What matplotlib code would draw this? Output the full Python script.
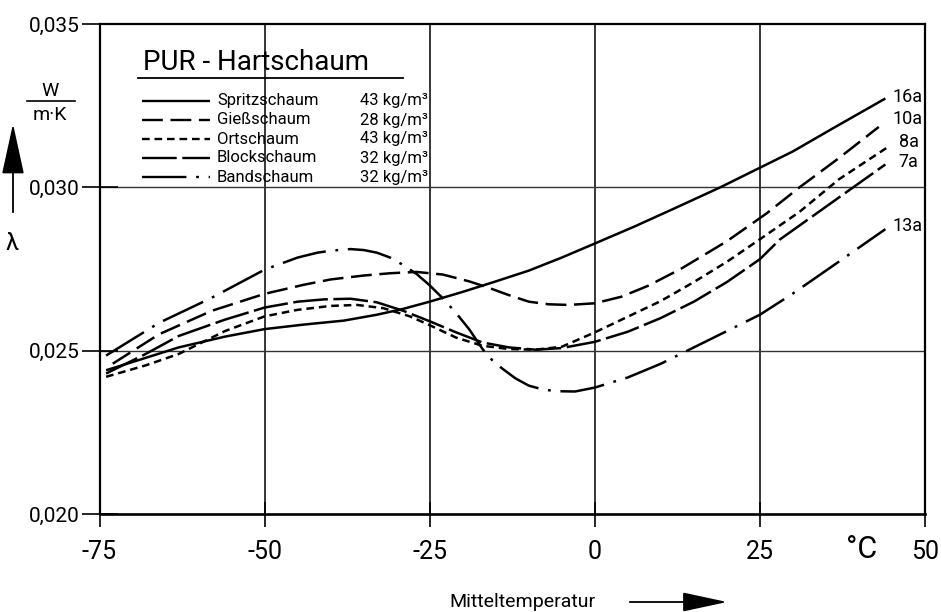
import matplotlib
matplotlib.use("Agg")
import matplotlib.pyplot as plt
from matplotlib.lines import Line2D
from matplotlib.patches import FancyArrowPatch

plt.rcParams['font.family'] = ['Roboto', 'DejaVu Sans']
plt.rcParams['lines.scale_dashes'] = False

# ---------------- data ----------------
spritz_T = [-74, -68, -63, -56, -50, -44, -38, -33, -29, -25, -20, -15, -10, -5, 0, 6, 12, 19, 25, 30, 36, 44]
spritz_L = [0.02440, 0.02478, 0.02510, 0.02543, 0.02566, 0.02580, 0.02592, 0.02610, 0.02628, 0.02650, 0.02680,
            0.02712, 0.02745, 0.02785, 0.02828, 0.02880, 0.02935, 0.03000, 0.03060, 0.03110, 0.03180, 0.03272]

giess_T = [-73, -66, -58, -50, -44, -40, -35, -31, -27, -23, -19, -16, -13, -10, -7, -4, 0, 4, 8, 13, 20, 26, 31, 37, 43]
giess_L = [0.02460, 0.02550, 0.02622, 0.02674, 0.02702, 0.02718, 0.02730, 0.02737, 0.02741, 0.02733, 0.02712,
           0.02692, 0.02670, 0.02650, 0.02642, 0.02640, 0.02645, 0.02665, 0.02698, 0.02750, 0.02835, 0.02920,
           0.03000, 0.03090, 0.03185]

ort_T = [-74, -68, -63, -56, -50, -45, -40, -36, -32, -28, -25, -21, -17, -13, -9, -5, 0, 5, 10, 15, 20, 25, 31, 37, 44.5]
ort_L = [0.02420, 0.02455, 0.02490, 0.02560, 0.02605, 0.02625, 0.02637, 0.02640, 0.02630, 0.02605, 0.02578,
         0.02540, 0.02515, 0.02505, 0.02503, 0.02512, 0.02556, 0.02604, 0.02652, 0.02710, 0.02772, 0.02841,
         0.02925, 0.03025, 0.03125]

block_T = [-74, -68, -63, -56, -50, -45, -41, -37, -33, -29, -25, -21, -17, -13, -9, -5, 0, 5, 10, 15, 20, 25, 28, 36, 44]
block_L = [0.02430, 0.02490, 0.02545, 0.02595, 0.02632, 0.02650, 0.02657, 0.02659, 0.02648, 0.02622, 0.02590,
           0.02556, 0.02525, 0.02510, 0.02503, 0.02508, 0.02527, 0.02558, 0.02600, 0.02650, 0.02710, 0.02780,
           0.02840, 0.02955, 0.03070]

band_T = [-74, -66, -58, -50, -45, -42, -40, -37, -35, -33, -31, -29, -27, -25, -23, -21, -19, -17, -15.5,
          -14, -12, -10, -8, -6, -3, 0, 5, 10, 15, 20, 25, 30, 36, 44]
band_L = [0.02485, 0.02585, 0.02662, 0.02748, 0.02785, 0.02800, 0.02806, 0.02811, 0.02808, 0.02800, 0.02785,
          0.02762, 0.02735, 0.02700, 0.02660, 0.02615, 0.02565, 0.02505, 0.02470, 0.02445, 0.02415, 0.02393,
          0.02382, 0.02376, 0.02375, 0.02387, 0.02418, 0.02460, 0.02510, 0.02560, 0.02610, 0.02675, 0.02759,
          0.02872]

names = ['Spritzschaum', 'Gießschaum', 'Ortschaum', 'Blockschaum', 'Bandschaum']
densities = ['43 kg/m³', '28 kg/m³', '43 kg/m³', '32 kg/m³', '32 kg/m³']
ages = ['16a', '10a', '8a', '7a', '13a']

x_ticks = [-75, -50, -25, 0, 25, 50]
x_ticklabels = ['-75', '-50', '-25', '0', '25', '50']
y_ticks = [0.020, 0.025, 0.030, 0.035]
y_ticklabels = ['0,020', '0,025', '0,030', '0,035']

series_T = [spritz_T, giess_T, ort_T, block_T, band_T]
series_L = [spritz_L, giess_L, ort_L, block_L, band_L]

# ---------------- styles ----------------
styles = ['-', (0, (15, 5.5)), (0, (5.5, 3.5)), (0, (25, 4)), (0, (32, 7, 2, 7))]
age_pos_px = [(893, 97), (893, 119), (899, 142), (898, 162), (893, 226)]

W, H = 941, 612
fig = plt.figure(figsize=(W / 100, H / 100), dpi=100)
ax = fig.add_axes([99.5 / W, 1 - 514 / H, (925 - 99.5) / W, (514 - 24) / H])


def fx(px):
    return px / W


def fy(py):
    return 1 - py / H


for T, L, ls in zip(series_T, series_L, styles):
    ax.plot(T, L, color='black', lw=1.8, linestyle=ls, solid_capstyle='butt', dash_capstyle='butt',
            solid_joinstyle='round', zorder=3)

for lab, (px, py) in zip(ages, age_pos_px):
    fig.text(fx(px), fy(py), lab, ha='left', va='center', fontsize=13)

ax.set_xlim(-75, 50)
ax.set_ylim(0.020, 0.035)
ax.set_xticks(x_ticks)
ax.set_xticklabels(x_ticklabels)
ax.set_yticks(y_ticks)
ax.set_yticklabels(y_ticklabels)
ax.tick_params(axis='x', direction='inout', length=18, width=1.2, pad=10, labelsize=18)
ax.tick_params(axis='y', direction='inout', length=26, width=1.2, pad=1, labelsize=15)

for xv in x_ticks[1:-1]:
    ax.axvline(xv, color='black', lw=1.1, zorder=1)
for yv in y_ticks[1:3]:
    ax.axhline(yv, color='#333333', lw=1.0, zorder=1)

for s in ['left', 'right', 'top']:
    ax.spines[s].set_linewidth(1.6)
ax.spines['bottom'].set_linewidth(1.9)

# legend block
fig.text(fx(143), fy(63), 'PUR - Hartschaum', fontsize=20, ha='left', va='center')
fig.add_artist(Line2D([fx(138), fx(403)], [fy(78), fy(78)], color='black', lw=1.3))
row_y = [101, 120, 139, 158, 177]
for ls, nm, dn, ry in zip(styles, names, densities, row_y):
    fig.add_artist(Line2D([fx(142), fx(210)], [fy(ry), fy(ry)], color='black', lw=1.7, linestyle=ls,
                          dash_capstyle='butt', solid_capstyle='butt'))
    fig.text(fx(217), fy(ry), nm, fontsize=12, ha='left', va='center')
    fig.text(fx(360), fy(ry), dn, fontsize=12, ha='left', va='center')

# y axis label
fig.text(fx(50), fy(91), 'W', fontsize=14, ha='center', va='center')
fig.add_artist(Line2D([fx(27), fx(75)], [fy(101), fy(101)], color='black', lw=1.2))
fig.text(fx(50), fy(115), 'm·K', fontsize=14, ha='center', va='center')
fig.add_artist(FancyArrowPatch((fx(13), fy(215)), (fx(13), fy(121)), transform=fig.transFigure,
                               arrowstyle='-|>,head_length=1.6,head_width=0.35', color='black', lw=1.3,
                               mutation_scale=20))
fig.text(fx(12), fy(243), 'λ', fontsize=17, ha='center', va='center')

# x axis label
fig.text(fx(862), fy(550), '°C', fontsize=22, ha='center', va='center')
fig.text(fx(522), fy(602), 'Mitteltemperatur', fontsize=14, ha='center', va='center')
fig.add_artist(FancyArrowPatch((fx(627), fy(602)), (fx(730), fy(602)), transform=fig.transFigure,
                               arrowstyle='-|>,head_length=1.4,head_width=0.3', color='black', lw=1.3,
                               mutation_scale=20))

fig.savefig('out.png', dpi=100)
